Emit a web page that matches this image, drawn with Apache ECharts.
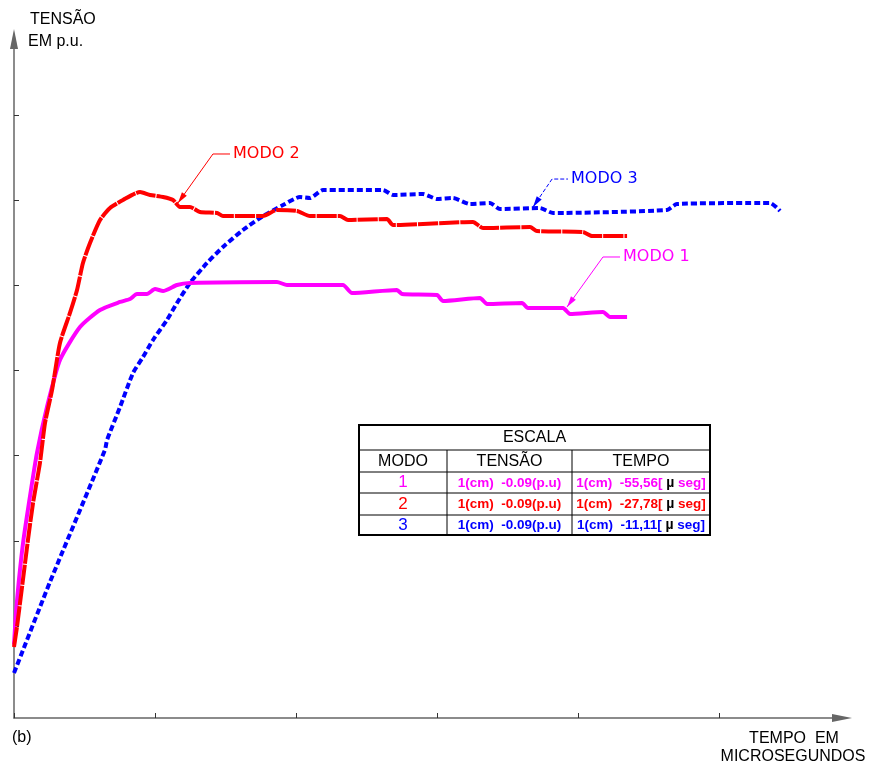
<!DOCTYPE html>
<html><head><meta charset="utf-8">
<script src="https://cdn.jsdelivr.net/npm/echarts@6/dist/echarts.min.js"></script>
<style>html,body{margin:0;padding:0;background:#fff}#c{width:869px;height:767px}</style>
</head><body><div id="c"></div>
<script>
// x: tick units (one tick of TEMPO axis), y: tick units of TENSÃO axis
const modo1 = [[0,-0.22],[0.014,0.153],[0.035,0.54],[0.067,1.009],[0.117,1.561],[0.163,2.031],[0.234,2.57],[0.326,3.122],[0.468,3.509],[0.61,3.709],[0.752,3.803],[0.823,3.838],[0.872,3.897],[0.943,3.897],[1.0,3.955],[1.057,3.932],[1.156,4.002],[1.248,4.026],[1.865,4.038],[1.936,4.002],[2.333,4.002],[2.397,3.908],[2.716,3.944],[2.752,3.897],[3.0,3.885],[3.043,3.815],[3.305,3.85],[3.355,3.779],[3.603,3.791],[3.645,3.732],[3.894,3.732],[3.943,3.662],[4.177,3.685],[4.227,3.627],[4.348,3.627]];
const modo2 = [[0,-0.246],[0.021,-0.012],[0.057,0.458],[0.099,1.009],[0.135,1.444],[0.184,1.913],[0.22,2.383],[0.27,2.77],[0.326,3.322],[0.397,3.674],[0.447,3.944],[0.489,4.261],[0.539,4.495],[0.61,4.765],[0.681,4.906],[0.773,5.0],[0.894,5.094],[0.965,5.059],[1.057,5.035],[1.128,5.0],[1.177,4.918],[1.248,4.918],[1.319,4.859],[1.44,4.847],[1.482,4.812],[1.766,4.812],[1.865,4.883],[2.007,4.871],[2.099,4.812],[2.312,4.812],[2.369,4.765],[2.645,4.777],[2.688,4.707],[3.255,4.742],[3.326,4.671],[3.66,4.683],[3.709,4.636],[4.035,4.624],[4.099,4.577],[4.348,4.577]];
const modo3 = [[0,-0.552],[0.255,0.516],[0.645,2.066],[0.66,2.183],[0.752,2.57],[0.844,2.969],[0.915,3.157],[0.986,3.357],[1.085,3.592],[1.156,3.791],[1.248,4.026],[1.369,4.261],[1.482,4.448],[1.624,4.648],[1.766,4.812],[1.908,4.941],[2.028,5.035],[2.099,5.023],[2.191,5.117],[2.617,5.117],[2.688,5.059],[2.901,5.07],[3.0,5.012],[3.113,5.023],[3.234,4.953],[3.376,4.965],[3.447,4.894],[3.73,4.906],[3.823,4.847],[4.631,4.883],[4.702,4.953],[5.362,4.965],[5.433,4.871]];
const seriesNames = ['MODO 1','MODO 2','MODO 3'];
const xTicks = [0,1,2,3,4,5];
const yTicks = [0,1,2,3,4,5,6];
const yTitle = ['TENSÃO','EM p.u.'];
const xTitle = ['TEMPO  EM','MICROSEGUNDOS'];
const panelLabel = '(b)';
const tableTitle = 'ESCALA';
const tableHeader = ['MODO','TENSÃO','TEMPO'];
const tableModes = ['1','2','3'];
const tableTensao = ['1(cm)  -0.09(p.u)','1(cm)  -0.09(p.u)','1(cm)  -0.09(p.u)'];
const tableTempo = ['-55,56','-27,78','-11,11'];
// annotation anchors in data units: arrow tip, bend, end of horizontal leader
const annotations = [
  {tip:[3.922,3.744], bend:[4.177,4.331], end:[4.298,4.331]},
  {tip:[1.163,4.965], bend:[1.411,5.54], end:[1.532,5.54]},
  {tip:[3.681,4.918], bend:[3.816,5.246], end:[3.929,5.246]}
];

const colors = ['#ff00ff','#ff0000','#0000ff'];
const dashes = ['solid',[20,1],[6,3]];
const FONT = 'Liberation Sans, Arial, sans-serif';
const FONT2 = 'DejaVu Sans, sans-serif';

const chart = echarts.init(document.getElementById('c'));
const axisCol = '#666';
chart.setOption({
  animation:false,
  backgroundColor:'#fff',
  grid:{left:14, right:27, top:39, bottom:49},
  xAxis:{type:'value', min:0, max:828/141, interval:1,
    axisLine:{show:true, onZero:false, lineStyle:{color:axisCol,width:1.5}, symbol:['none','triangle'], symbolSize:[8,20]},
    axisTick:{show:true, inside:true, length:5, lineStyle:{color:'#333',width:1}, customValues:xTicks},
    axisLabel:{show:false}, splitLine:{show:false}},
  yAxis:{type:'value', min:-92/85.2, max:587/85.2,
    axisLine:{show:true, onZero:false, lineStyle:{color:axisCol,width:1.5}, symbol:['none','triangle'], symbolSize:[8,20]},
    axisTick:{show:true, inside:true, length:5, lineStyle:{color:'#333',width:1}, customValues:yTicks},
    axisLabel:{show:false}, splitLine:{show:false}},
  series:[modo1,modo2,modo3].map((d,i)=>({
    name:seriesNames[i], type:'line', data:d, showSymbol:false, symbol:'none', smooth:0.2,
    lineStyle:{color:colors[i], width:4, type:dashes[i], cap:'butt', join:'round'},
    z: i===0?3:(i===1?4:2)
  }))
});

const P = p => chart.convertToPixel({gridIndex:0}, p);
const g = [];
function arrowHead(t,b,color){
  const dx=t[0]-b[0], dy=t[1]-b[1], L=Math.hypot(dx,dy), ux=dx/L, uy=dy/L;
  const len=11, w=3;
  return {type:'polygon', shape:{points:[[t[0],t[1]],[t[0]-ux*len-uy*w,t[1]-uy*len+ux*w],[t[0]-ux*len+uy*w,t[1]-uy*len-ux*w]]}, style:{fill:color}, z:10};
}
annotations.forEach((a,i)=>{
  const t=P(a.tip), b=P(a.bend), e=P(a.end);
  g.push({type:'polyline', shape:{points:[t,b,e]}, style:{stroke:colors[i], lineWidth:1, fill:null, lineDash: i===2?[4,2]:null}, z:10});
  g.push(arrowHead(t,b,colors[i]));
  g.push({type:'text', x:e[0]+3, y:e[1], style:{text:seriesNames[i], fill:colors[i], font:'16px '+FONT2, textAlign:'left', textVerticalAlign:'middle'}, z:10});
});
// axis titles
g.push({type:'text', x:30, y:20, style:{text:yTitle[0], fill:'#000', font:'16px '+FONT, textAlign:'left', textVerticalAlign:'middle'}});
g.push({type:'text', x:28, y:42, style:{text:yTitle[1], fill:'#000', font:'16px '+FONT, textAlign:'left', textVerticalAlign:'middle'}});
g.push({type:'text', x:794, y:739, style:{text:xTitle[0], fill:'#000', font:'16px '+FONT, textAlign:'center', textVerticalAlign:'middle'}});
g.push({type:'text', x:793, y:757, style:{text:xTitle[1], fill:'#000', font:'16px '+FONT, textAlign:'center', textVerticalAlign:'middle'}});
g.push({type:'text', x:12, y:738, style:{text:panelLabel, fill:'#000', font:'16px '+FONT, textAlign:'left', textVerticalAlign:'middle'}});
// table
const TL=359, TR=710, TT=425, TB=535;
const rowsY=[450,472,493,515];
const colX=[447,572];
g.push({type:'rect', shape:{x:TL,y:TT,width:TR-TL,height:TB-TT}, style:{fill:'#fff',stroke:'#000',lineWidth:2}, z:20});
rowsY.forEach(y=>g.push({type:'line', shape:{x1:TL,y1:y,x2:TR,y2:y}, style:{stroke:'#000',lineWidth:1}, z:21}));
colX.forEach(x=>g.push({type:'line', shape:{x1:x,y1:rowsY[0],x2:x,y2:TB}, style:{stroke:'#000',lineWidth:1}, z:21}));
const txt=(text,x,y,fill,font,extra)=>Object.assign({type:'text', x, y, z:22, style:Object.assign({text, fill, font, textAlign:'center', textVerticalAlign:'middle'}, extra||{})});
g.push(txt(tableTitle,(TL+TR)/2,438,'#000','16px '+FONT));
const colC=[(TL+colX[0])/2,(colX[0]+colX[1])/2,(colX[1]+TR)/2];
tableHeader.forEach((h,i)=>g.push(txt(h,colC[i],461.5,'#000','16px '+FONT)));
const rowC=[482.5,504,525];
tableModes.forEach((m,i)=>{
  g.push(txt(m,colC[0],rowC[i],colors[i],'17px '+FONT));
  g.push(txt(tableTensao[i],colC[1],rowC[i]+0.5,colors[i],'bold 13.5px '+FONT));
  g.push({type:'text', x:colC[2], y:rowC[i]+0.5, z:22, style:{text:'1(cm)  '+tableTempo[i]+'[ {k|µ} seg]', fill:colors[i], font:'bold 13.5px '+FONT, textAlign:'center', textVerticalAlign:'middle',
    rich:{k:{fill:'#000', font:'bold 14px '+FONT}}}});
});
chart.setOption({graphic:{elements:g}});
</script></body></html>
